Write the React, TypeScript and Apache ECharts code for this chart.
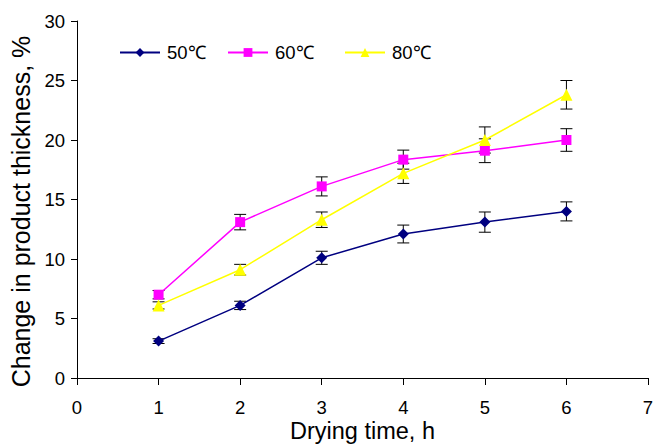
import React, { useEffect, useRef } from "react";
import * as echarts from "echarts";

const hours = [1, 2, 3, 4, 5, 6];
const t50 = [3.1, 6.1, 10.1, 12.1, 13.1, 14.0];
const t60 = [7.0, 13.1, 16.1, 18.35, 19.1, 20.0];
const t80 = [6.1, 9.1, 13.3, 17.2, 20.0, 23.8];
const err50 = [0.2, 0.35, 0.55, 0.75, 0.85, 0.8];
const err60 = [0.35, 0.65, 0.8, 0.8, 1.0, 0.95];
const err80 = [0.3, 0.45, 0.65, 0.85, 1.1, 1.2];
const seriesNames = ["50℃", "60℃", "80℃"];
const colors = ["#000080", "#FF00FF", "#FFFF00"];
const xTitle = "Drying time, h";
const yTitle = "Change in product thickness, %";

const FONT = "Liberation Sans, Arial, sans-serif";

function pts(vals: number[]) {
  return hours.map((h, i) => [h, vals[i]]);
}
function errPts(vals: number[], errs: number[]) {
  return hours.map((h, i) => [h, vals[i], errs[i]]);
}

const renderErr = (params: any, api: any) => {
  const x = api.value(0);
  const y = api.value(1);
  const e = api.value(2);
  const top = api.coord([x, y + e]);
  const bot = api.coord([x, y - e]);
  const cw = 6;
  const style = { stroke: "#000", lineWidth: 1 };
  return {
    type: "group",
    children: [
      { type: "line", shape: { x1: top[0], y1: top[1], x2: bot[0], y2: bot[1] }, style },
      { type: "line", shape: { x1: top[0] - cw, y1: top[1], x2: top[0] + cw, y2: top[1] }, style },
      { type: "line", shape: { x1: bot[0] - cw, y1: bot[1], x2: bot[0] + cw, y2: bot[1] }, style },
    ],
  };
};

export default function App() {
  const ref = useRef<HTMLDivElement>(null);
  useEffect(() => {
    if (!ref.current) return;
    const chart = echarts.init(ref.current, null, { renderer: "svg" });
    const symbols = ["diamond", "rect", "triangle"];
    const sizes = [11, 10, 12];
    const vals = [t50, t60, t80];
    const errs = [err50, err60, err80];
    const errSeries = vals.map((v, i) => ({
      type: "custom",
      name: "err" + i,
      renderItem: renderErr,
      data: errPts(v, errs[i]),
      z: 1,
      silent: true,
    }));
    const lineSeries = vals.map((v, i) => ({
      type: "line",
      name: seriesNames[i],
      data: pts(v),
      symbol: symbols[i],
      symbolSize: sizes[i],
      showSymbol: true,
      lineStyle: { color: colors[i], width: 1.5 },
      itemStyle: { color: colors[i] },
      z: 3,
    }));
    const legendLefts = [114, 222, 339];
    chart.setOption({
      animation: false,
      textStyle: { fontFamily: FONT },
      grid: {
        left: 77,
        right: 5,
        top: 21,
        bottom: 68,
        containLabel: false,
        outerBoundsMode: "none",
      },
      graphic: [
        {
          type: "text",
          x: 20.5,
          y: 211.5,
          rotation: Math.PI / 2,
          style: {
            text: yTitle,
            fontSize: 25,
            fontFamily: FONT,
            fill: "#000",
            align: "center",
            verticalAlign: "middle",
          },
        },
      ],
      legend: seriesNames.map((n, i) => ({
        data: [n],
        left: legendLefts[i],
        top: 38,
        itemWidth: 40,
        itemHeight: 11,
        itemGap: 0,
        textStyle: { fontSize: 18.5, color: "#000", fontFamily: FONT, padding: [0, 0, 0, 2] },
      })),
      xAxis: {
        type: "value",
        min: 0,
        max: 7,
        interval: 1,
        name: xTitle,
        nameLocation: "middle",
        nameGap: 41,
        nameMoveOverlap: false,
        nameTextStyle: { fontSize: 23.5, color: "#000", fontFamily: FONT },
        axisLine: { show: true, lineStyle: { color: "#000", width: 1 } },
        axisTick: { show: true, length: 7, lineStyle: { color: "#000" } },
        axisLabel: { fontSize: 18.5, color: "#000", margin: 20 },
        splitLine: { show: false },
      },
      yAxis: {
        type: "value",
        min: 0,
        max: 30,
        interval: 5,
        axisLine: { show: true, lineStyle: { color: "#000", width: 1 } },
        axisTick: { show: true, length: 6, lineStyle: { color: "#000" } },
        axisLabel: { fontSize: 18.5, color: "#000", margin: 12 },
        splitLine: { show: false },
      },
      series: [...errSeries, ...lineSeries],
    });
    return () => chart.dispose();
  }, []);
  return (
    <div
      ref={ref}
      style={{ position: "absolute", left: 0, top: 0, width: 653, height: 446 }}
    />
  );
}
